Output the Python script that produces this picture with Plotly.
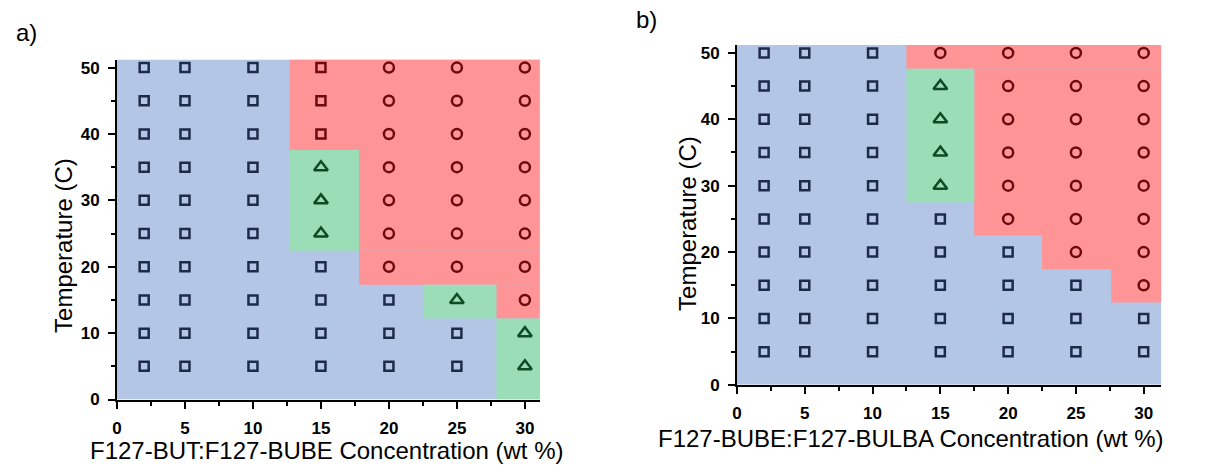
import plotly.graph_objects as go

# ---------------- data ----------------
concentrations = [2, 5, 10, 15, 20, 25, 30]
temperatures = [5, 10, 15, 20, 25, 30, 35, 40, 45, 50]

# phase codes per concentration, from 5 C to 50 C
# S = sol (square), Q = square in red region, T = triangle, C = circle (gel)
phases_a = ["SSSSSSSSSS", "SSSSSSSSSS", "SSSSSSSSSS", "SSSSTTTQQQ",
            "SSSCCCCCCC", "SSTCCCCCCC", "TTCCCCCCCC"]
phases_b = ["SSSSSSSSSS", "SSSSSSSSSS", "SSSSSSSSSS", "SSSSSTTTTC",
            "SSSSCCCCCC", "SSSCCCCCCC", "SSCCCCCCCC"]

# phase regions [x0, x1, y0, y1] in data units
a_blue = [[0, 31.1, 0, 51.2]]
a_red = [[12.7, 31.1, 37.6, 51.2], [17.8, 31.1, 22.4, 37.6],
         [17.8, 22.5, 17.3, 22.4], [22.5, 31.1, 17.3, 22.4], [27.9, 31.1, 12.2, 17.3]]
a_green = [[12.7, 17.8, 22.4, 37.6], [22.5, 27.9, 12.2, 17.3], [27.9, 31.1, 0, 12.2]]

b_blue = [[0, 31.3, 0, 51.2]]
b_red = [[12.5, 31.3, 47.6, 51.2], [17.5, 31.3, 22.5, 47.6],
         [22.5, 31.3, 17.4, 22.5], [27.6, 31.3, 12.4, 17.4]]
b_green = [[12.5, 17.5, 27.5, 47.6]]

x_ticks = [0, 5, 10, 15, 20, 25, 30]
y_ticks = [0, 10, 20, 30, 40, 50]

# ---------------- style ----------------
BLUE = "rgb(179,198,230)"
RED = "rgb(255,148,150)"
GREEN = "rgb(154,221,183)"
NAVY = "#1e2b48"
DRED = "#6b0a0f"
DGREEN = "#0e4a22"
FONT = "Liberation Sans, Arial, sans-serif"

marker_style = {
    "S": dict(symbol="square-open", color=NAVY, size=9),
    "Q": dict(symbol="square-open", color=DRED, size=9),
    "T": dict(symbol="triangle-up-open", color=DGREEN, size=12),
    "C": dict(symbol="circle-open", color=DRED, size=10),
}

fig = go.Figure()


def add_panel(phases, blue, red, green, xa, ya):
    for rects, col in ((blue, BLUE), (red, RED), (green, GREEN)):
        for x0, x1, y0, y1 in rects:
            fig.add_shape(type="rect", xref=xa, yref=ya, x0=x0, x1=x1, y0=y0, y1=y1,
                          fillcolor=col, line=dict(width=0), layer="below")
    for code, st in marker_style.items():
        xs, ys = [], []
        for c, col in zip(concentrations, phases):
            for t, p in zip(temperatures, col):
                if p == code:
                    xs.append(c)
                    ys.append(t)
        if xs:
            fig.add_trace(go.Scatter(
                x=xs, y=ys, mode="markers", xaxis=xa, yaxis=ya, showlegend=False,
                marker=dict(symbol=st["symbol"], size=st["size"], color=st["color"],
                            line=dict(color=st["color"], width=2.5))))


add_panel(phases_a, a_blue, a_red, a_green, "x", "y")
add_panel(phases_b, b_blue, b_red, b_green, "x2", "y2")

axis_common = dict(
    showline=True, linecolor="black", linewidth=2, showgrid=False, zeroline=False,
    ticks="outside", ticklen=7, tickwidth=2, tickcolor="black",
    tickfont=dict(family=FONT, size=17, color="black", weight="bold"),
    ticklabelstandoff=5,
    layer="above traces",
)

fig.update_layout(
    width=1225, height=474,
    margin=dict(l=0, r=0, t=0, b=0),
    paper_bgcolor="white", plot_bgcolor="white",
    xaxis=dict(domain=[0.0918, 0.4384], range=[0, 31.1], anchor="y", tickvals=x_ticks,
               minor=dict(ticks="outside", ticklen=4, tickwidth=2, tickcolor="black", dtick=2.5),
               **axis_common),
    yaxis=dict(domain=[0.1392, 0.8734], range=[0, 51.2], anchor="x", tickvals=y_ticks,
               minor=dict(ticks="outside", ticklen=4, tickwidth=2, tickcolor="black", dtick=5),
               **axis_common),
    xaxis2=dict(domain=[0.6000, 0.9478], range=[0, 31.3], anchor="y2", tickvals=x_ticks,
                minor=dict(ticks="outside", ticklen=4, tickwidth=2, tickcolor="black", dtick=2.5),
                **axis_common),
    yaxis2=dict(domain=[0.1709, 0.9051], range=[0, 51.2], anchor="x2", tickvals=y_ticks,
                minor=dict(ticks="outside", ticklen=4, tickwidth=2, tickcolor="black", dtick=5),
                **axis_common),
)


def ann(text, px, py, size=24, angle=0):
    return dict(text=text, x=px / 1225, y=1 - py / 474, xref="paper", yref="paper",
                xanchor="center", yanchor="middle", textangle=angle,
                showarrow=False, font=dict(family=FONT, size=size, color="black"))


annotations = [
    ann("a)", 22, 32),
    ann("b)", 644, 19),
    ann("F127-BUT:F127-BUBE Concentration (wt %)", 323, 460),
    ann("F127-BUBE:F127-BULBA Concentration (wt %)", 910, 448),
    ann("Temperature (C)", 58, 250, angle=-90),
    ann("Temperature (C)", 686, 228, angle=-90),
]
fig.update_layout(annotations=annotations)

fig.write_html("out.html")
